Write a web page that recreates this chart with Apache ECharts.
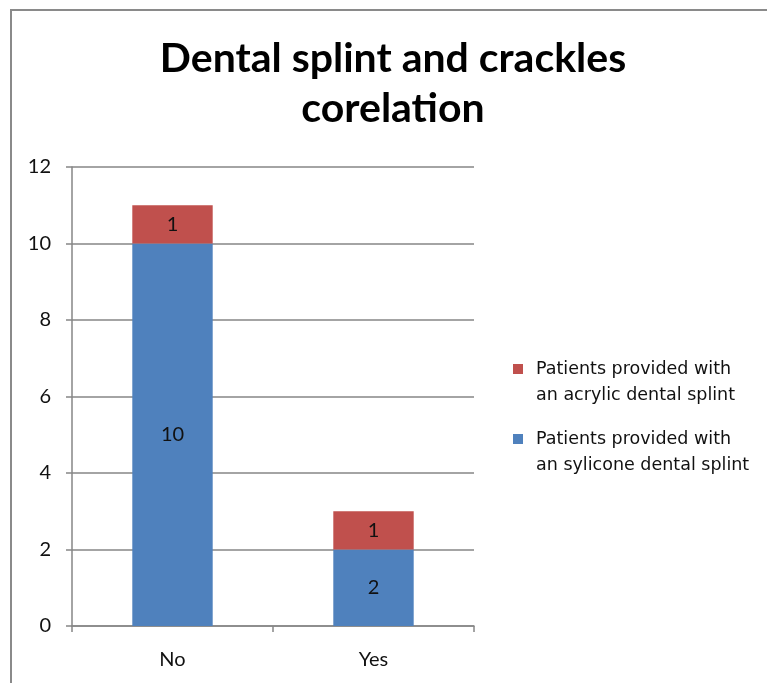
<!DOCTYPE html>
<html><head><meta charset="utf-8">
<script src="https://cdn.jsdelivr.net/npm/echarts@6/dist/echarts.min.js"></script>
<style>
html,body{margin:0;padding:0;background:#fff;}
#frame{position:absolute;left:10px;top:9px;width:800px;height:700px;border-left:2px solid #8a8a8a;border-top:2px solid #8a8a8a;}
#chart{position:absolute;left:0;top:0;width:767px;height:683px;}
</style></head>
<body>
<div id="frame"></div>
<div id="chart"></div>
<script>
const titleText = 'Dental splint and crackles\ncorelation';
const categories = ['No', 'Yes'];
const sylicone = [10, 2];
const acrylic = [1, 1];
const seriesNames = ['Patients provided with\nan sylicone dental splint', 'Patients provided with\nan acrylic dental splint'];

const chart = echarts.init(document.getElementById('chart'));
const fontFam = 'Lato, "Open Sans", sans-serif';
chart.setOption({
  animation: false,
  title: {
    text: titleText, left: 388, top: 29, textAlign: 'center',
    textStyle: {fontFamily: fontFam, fontWeight: 'bold', fontSize: 41, lineHeight: 50, color: '#000'}
  },
  grid: {left: 72, top: 167, right: 293, bottom: 57},
  legend: {
    orient: 'vertical', left: 513, top: 330, padding: 0, itemWidth: 10, itemHeight: 10, itemGap: -8,
    data: [seriesNames[1], seriesNames[0]],
    formatter: function (name) { return '\n' + name; },
    textStyle: {fontFamily: '"DejaVu Sans", sans-serif', fontSize: 17.5, lineHeight: 26, color: '#111', padding: [0, 0, 0, 8]},
    icon: 'rect'
  },
  xAxis: {
    type: 'category', data: categories,
    axisLine: {lineStyle: {color: '#868686', width: 1.5}},
    axisTick: {show: true, length: 6, lineStyle: {color: '#868686', width: 1.5}},
    axisLabel: {fontFamily: fontFam, fontSize: 20, color: '#111', margin: 24}
  },
  yAxis: {
    type: 'value', min: 0, max: 12, interval: 2,
    axisLine: {show: true, lineStyle: {color: '#868686', width: 1.5}},
    axisTick: {show: true, length: 6, lineStyle: {color: '#868686', width: 1.5}},
    splitLine: {lineStyle: {color: '#868686', width: 1.5}},
    axisLabel: {fontFamily: fontFam, fontSize: 20, color: '#111', margin: 21}
  },
  series: [
    {name: seriesNames[0], type: 'bar', stack: 's', data: sylicone, barWidth: '40%',
     itemStyle: {color: '#4F81BD'},
     label: {show: true, position: 'inside', fontFamily: fontFam, fontSize: 20, color: '#111'}},
    {name: seriesNames[1], type: 'bar', stack: 's', data: acrylic, barWidth: '40%',
     itemStyle: {color: '#C0504D'},
     label: {show: true, position: 'inside', fontFamily: fontFam, fontSize: 20, color: '#111'}}
  ]
});
</script>
</body></html>
